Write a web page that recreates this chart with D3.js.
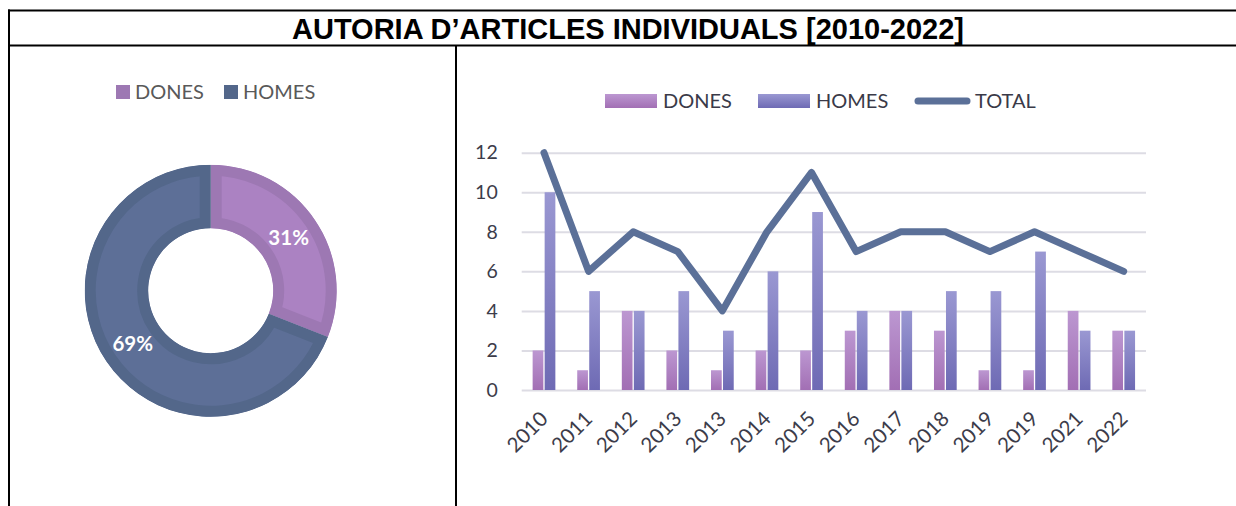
<!DOCTYPE html>
<html>
<head>
<meta charset="utf-8">
<script src="https://cdn.jsdelivr.net/npm/d3@7"></script>
<style>
  html, body { margin: 0; padding: 0; background: #fff; }
  svg { display: block; }
</style>
</head>
<body>
<svg id="chart" width="1236" height="506"></svg>
<script>
// Individual article authorship, 2010-2022
const years  = ["2010","2011","2012","2013","2013","2014","2015","2016","2017","2018","2019","2019","2021","2022"];
const dones  = [2, 1, 4, 2, 1, 2, 2, 3, 4, 3, 1, 1, 4, 3];
const homes  = [10, 5, 4, 5, 3, 6, 9, 4, 4, 5, 5, 7, 3, 3];
const total  = [12, 6, 8, 7, 4, 8, 11, 7, 8, 8, 7, 8, 7, 6];
const shareLabels = ["DONES", "HOMES"];
const shareValues = [31, 69];
const yTicks = [0, 2, 4, 6, 8, 10, 12];

const FONT = "Lato, 'Open Sans', sans-serif";
const svg = d3.select("#chart");

// ---- gradients for the bars
const defs = svg.append("defs");
function vGrad(id, top, bottom) {
  const g = defs.append("linearGradient").attr("id", id)
    .attr("x1", 0).attr("y1", 0).attr("x2", 0).attr("y2", 1);
  g.append("stop").attr("offset", "0%").attr("stop-color", top);
  g.append("stop").attr("offset", "100%").attr("stop-color", bottom);
}
vGrad("gDones", "#BC97D1", "#A26FB4");
vGrad("gHomes", "#9A98D2", "#6E6AB4");

// ---- frame and title
const frame = svg.append("g").attr("stroke", "#000").attr("stroke-width", 2);
frame.append("line").attr("x1", 8).attr("x2", 1236).attr("y1", 10.5).attr("y2", 10.5);
frame.append("line").attr("x1", 8).attr("x2", 1236).attr("y1", 45.5).attr("y2", 45.5);
frame.append("line").attr("x1", 9).attr("x2", 9).attr("y1", 9.5).attr("y2", 506);
frame.append("line").attr("x1", 456).attr("x2", 456).attr("y1", 45.5).attr("y2", 506);

svg.append("text")
  .attr("x", 628).attr("y", 38.5)
  .attr("text-anchor", "middle")
  .attr("font-family", "'Liberation Sans', Arial, sans-serif")
  .attr("font-weight", "bold")
  .attr("font-size", 29)
  .attr("fill", "#000")
  .text("AUTORIA D\u2019ARTICLES INDIVIDUALS [2010-2022]");

// ---- donut (share of authorship)
const donutFill   = ["#AB82C2", "#5D6F97"];
const donutStroke = ["#9D78B3", "#53678A"];
const cx = 210.7, cy = 290.7, rOuter = 126, rInner = 62.5;

const pie = d3.pie().sort(null).value(d => d)(shareValues);
const arc = d3.arc().innerRadius(rInner).outerRadius(rOuter);
const donut = svg.append("g").attr("transform", `translate(${cx},${cy})`);

pie.forEach((p, i) => {
  defs.append("clipPath").attr("id", "slice" + i)
    .append("path").attr("d", arc(p));
});
donut.selectAll("path.slice")
  .data(pie)
  .join("path")
  .attr("class", "slice")
  .attr("d", arc)
  .attr("fill", (d, i) => donutFill[i])
  .attr("stroke", (d, i) => donutStroke[i])
  .attr("stroke-width", 22)
  .attr("stroke-linejoin", "miter")
  .attr("clip-path", (d, i) => `url(#slice${i})`);

donut.selectAll("text.pct")
  .data(pie)
  .join("text")
  .attr("class", "pct")
  .attr("transform", d => `translate(${arc.centroid(d)})`)
  .attr("text-anchor", "middle")
  .attr("dy", "0.36em")
  .attr("font-family", FONT)
  .attr("font-weight", "bold")
  .attr("font-size", 20.5)
  .attr("fill", "#fff")
  .text(d => d.value + "%");

// donut legend
const legL = svg.append("g").attr("font-family", FONT).attr("font-size", 20).attr("fill", "#595959");
const legLx = [116, 224];
shareLabels.forEach((lab, i) => {
  legL.append("rect").attr("x", legLx[i]).attr("y", 85).attr("width", 14).attr("height", 14)
    .attr("fill", donutStroke[i]);
  legL.append("text").attr("x", legLx[i] + 19).attr("y", 99).text(lab);
});

// ---- combo chart (bars + total line)
const xLeft = 521.7, xRight = 1146, yTop = 152.7, yBottom = 390;
const idx = d3.range(years.length);

const x = d3.scaleBand().domain(idx).range([xLeft, xRight]).padding(0);
const xSub = d3.scaleBand().domain(shareLabels).range([0, x.bandwidth()])
  .paddingInner(0.108).paddingOuter(0.91);
const y = d3.scaleLinear().domain([0, 12]).range([yBottom, yTop]);

// gridlines + y labels
const yAxis = svg.append("g")
  .attr("transform", `translate(${xLeft},0)`)
  .call(d3.axisLeft(y).tickValues(yTicks).tickSize(-(xRight - xLeft)).tickPadding(24));
yAxis.select(".domain").remove();
yAxis.selectAll(".tick line").attr("stroke", "#DDDCE4").attr("stroke-width", 2);
yAxis.selectAll(".tick text")
  .attr("font-family", FONT).attr("font-size", 19.5).attr("fill", "#3C3C4A");

// x labels
const xAxis = svg.append("g")
  .attr("transform", `translate(0,${yBottom})`)
  .call(d3.axisBottom(x).tickFormat(i => years[i]).tickSize(0));
xAxis.select(".domain").remove();
xAxis.selectAll(".tick text")
  .attr("font-family", FONT).attr("font-size", 20.5).attr("fill", "#3C3C4A")
  .attr("text-anchor", "end")
  .attr("dy", 0)
  .attr("transform", "translate(3,28) rotate(-45)");

// bars
const barData = idx.flatMap(i => [
  { i, key: "DONES", v: dones[i] },
  { i, key: "HOMES", v: homes[i] }
]);
svg.append("g").selectAll("rect")
  .data(barData)
  .join("rect")
  .attr("x", d => x(d.i) + xSub(d.key))
  .attr("width", xSub.bandwidth())
  .attr("y", d => y(d.v))
  .attr("height", d => y(0) - y(d.v))
  .attr("fill", d => d.key === "DONES" ? "url(#gDones)" : "url(#gHomes)");

// total line
const lineColor = "#5B7098";
svg.append("path")
  .datum(idx)
  .attr("fill", "none")
  .attr("stroke", lineColor)
  .attr("stroke-width", 7)
  .attr("stroke-linecap", "round")
  .attr("stroke-linejoin", "round")
  .attr("d", d3.line()
    .x(i => x(i) + x.bandwidth() / 2)
    .y(i => y(total[i])));

// combo legend
const legR = svg.append("g").attr("font-family", FONT).attr("font-size", 20).attr("fill", "#3A3A48");
legR.append("rect").attr("x", 605).attr("y", 94).attr("width", 52).attr("height", 14).attr("fill", "url(#gDones)");
legR.append("text").attr("x", 663).attr("y", 108).text("DONES");
legR.append("rect").attr("x", 758).attr("y", 94).attr("width", 52).attr("height", 14).attr("fill", "url(#gHomes)");
legR.append("text").attr("x", 816).attr("y", 108).text("HOMES");
legR.append("line").attr("x1", 918).attr("x2", 967).attr("y1", 101).attr("y2", 101)
  .attr("stroke", lineColor).attr("stroke-width", 7).attr("stroke-linecap", "round");
legR.append("text").attr("x", 975).attr("y", 108).text("TOTAL");
</script>
</body>
</html>
